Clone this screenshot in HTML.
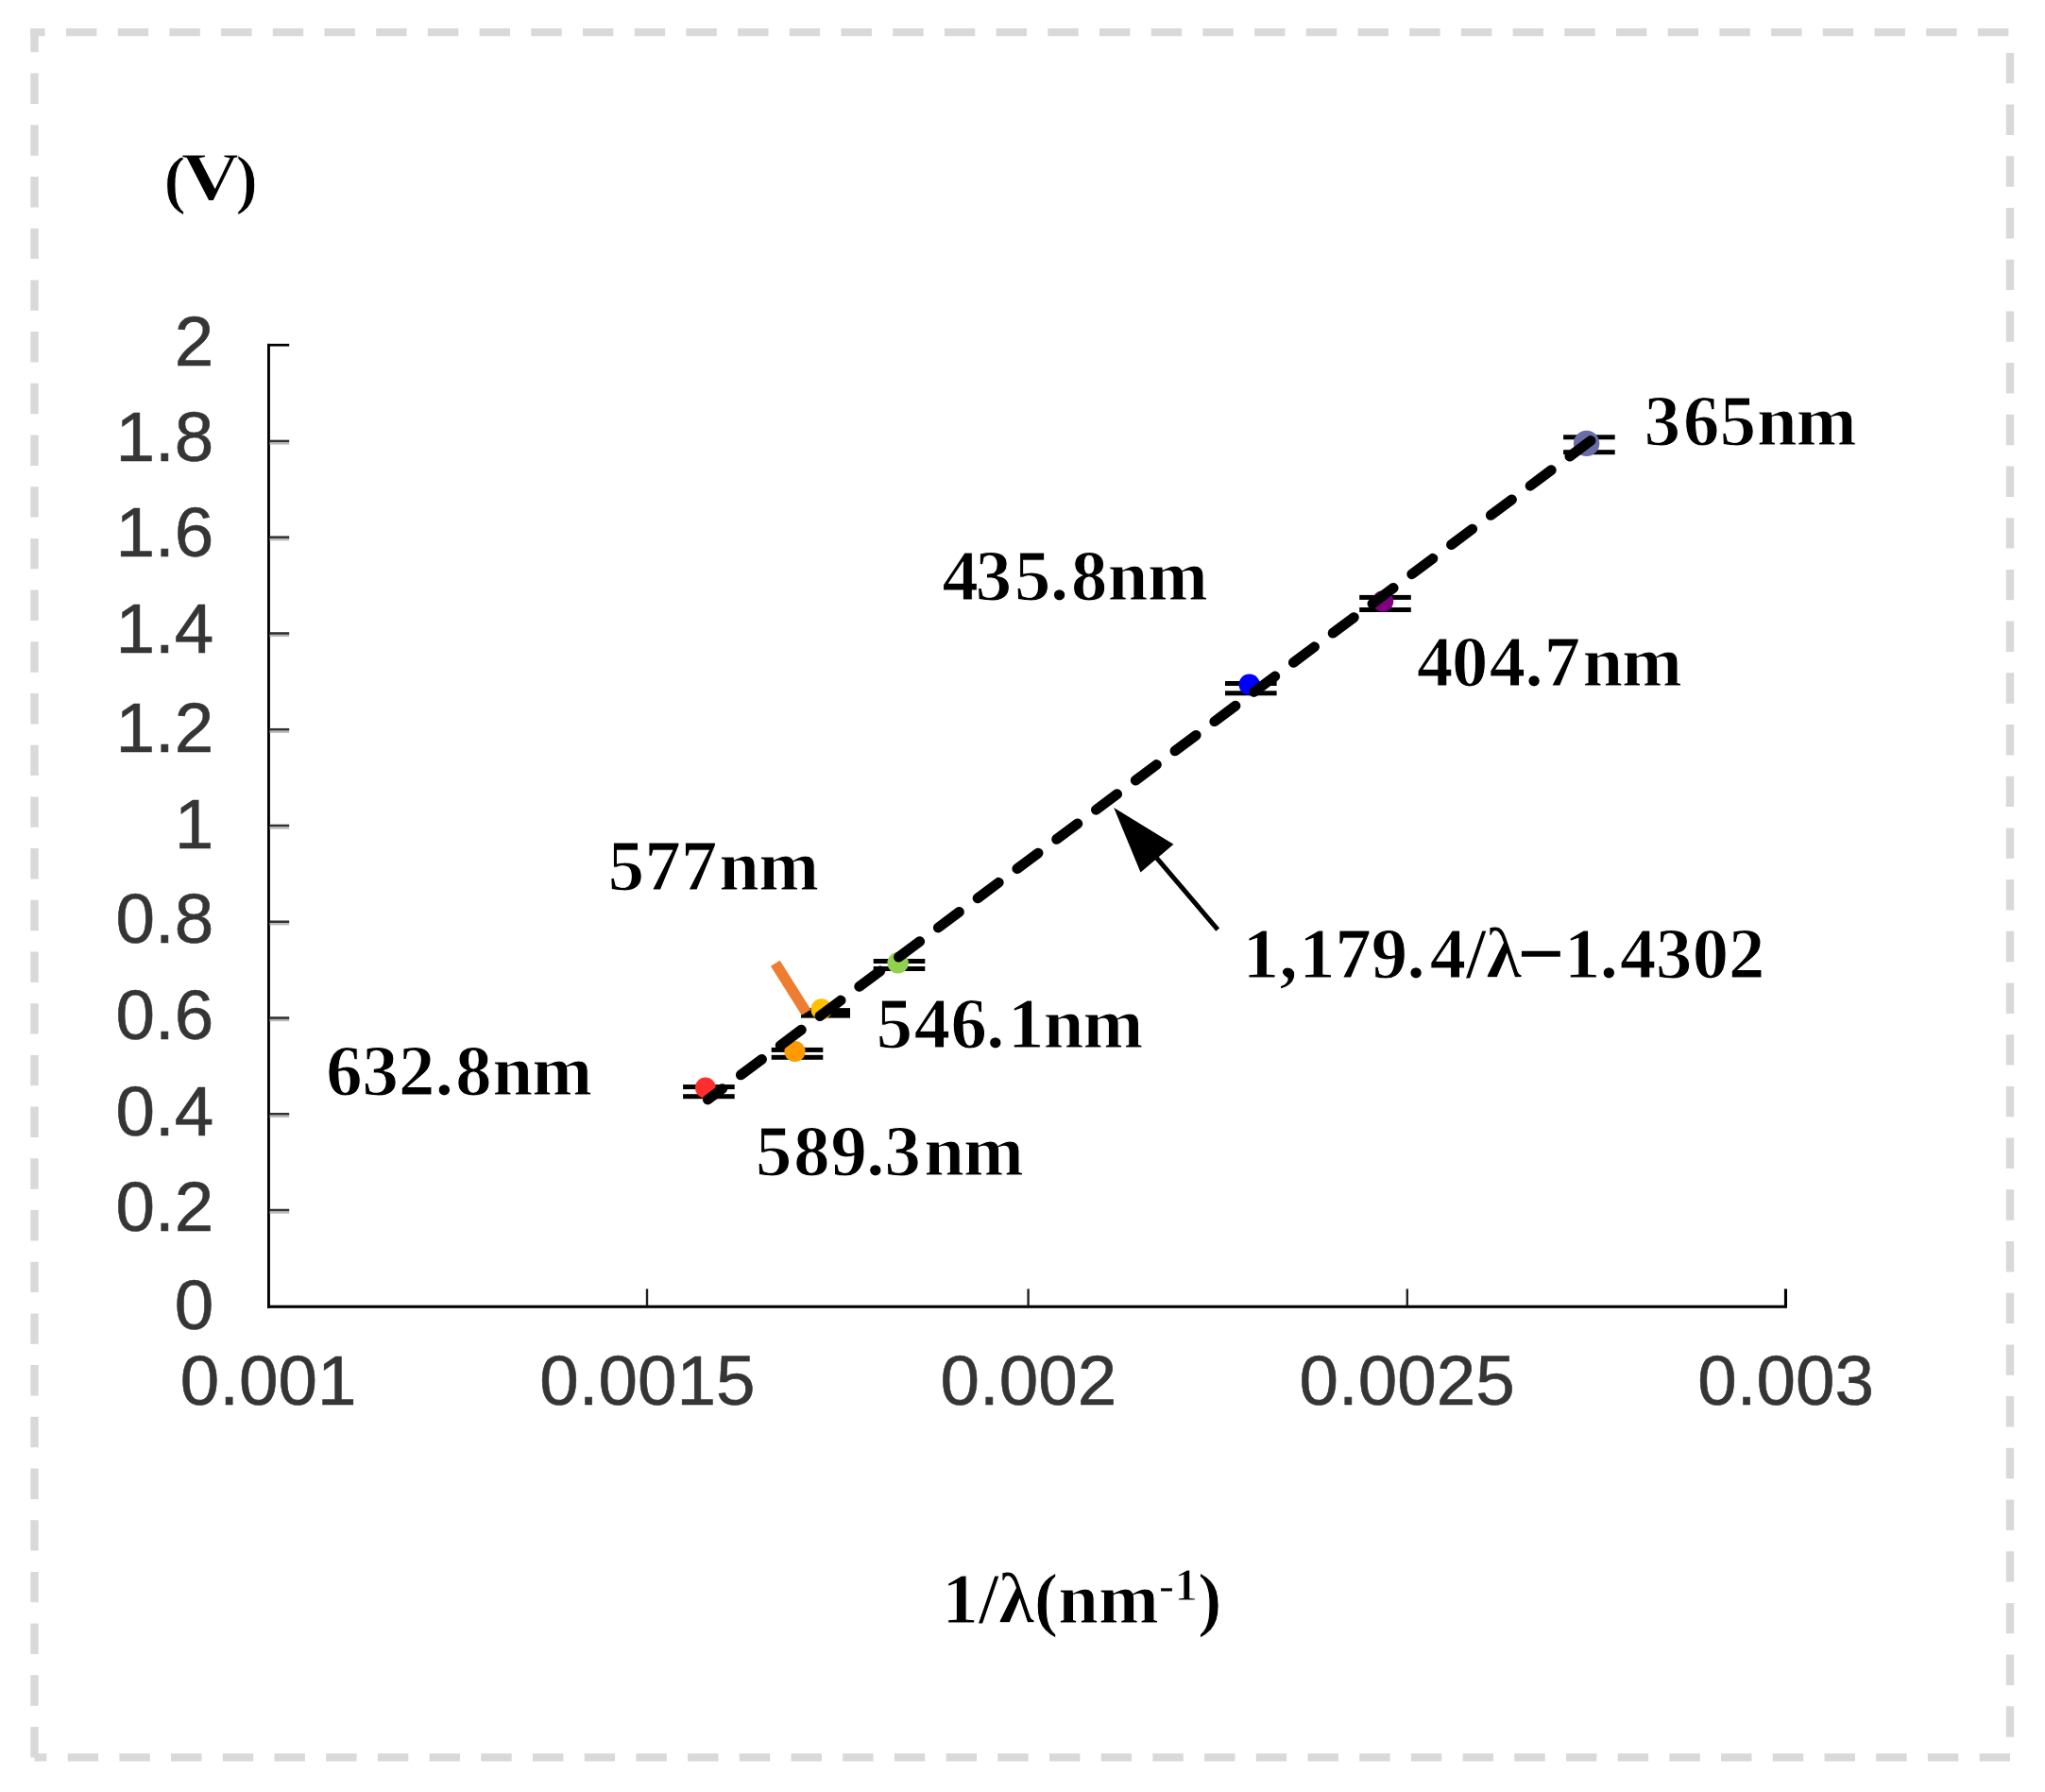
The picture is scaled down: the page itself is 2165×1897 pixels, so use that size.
<!DOCTYPE html>
<html lang="en"><head><meta charset="utf-8"><title>Stopping voltage versus 1/λ</title>
<style>
html,body{margin:0;padding:0;background:#fff;}
body{width:2165px;height:1897px;overflow:hidden;}
svg{display:block;}
.sans{font-family:"Liberation Sans",Arial,sans-serif;font-size:74.6px;fill:#353535;stroke:#353535;stroke-width:0.6px;}
.ser{font-family:"Liberation Serif","Times New Roman",serif;font-weight:bold;font-size:76.6px;fill:#000;stroke:#fff;stroke-width:1px;}
</style></head><body>
<svg width="2165" height="1897" viewBox="0 0 2165 1897">
<rect x="0" y="0" width="2165" height="1897" fill="#ffffff"/>
<g id="frame" fill="none" stroke="#d9d9d9" stroke-width="8.4" stroke-dasharray="32.4 22.3">
<line x1="36.5" y1="1860.4" x2="36.5" y2="29.9"/>
<line x1="32.3" y1="34.1" x2="2128" y2="34.1" stroke-dashoffset="17"/>
<line x1="2128" y1="34.1" x2="2128" y2="1860.4" stroke-dashoffset="32.9"/>
<line x1="2128" y1="1860.4" x2="36.5" y2="1860.4"/>
</g>
<g id="axes">
<rect x="283" y="363.9" width="2.9" height="1020.9" fill="#000"/>
<rect x="283" y="1381.7" width="1609" height="3.1" fill="#000"/>
<rect x="283" y="363.9" width="23.2" height="2.7" fill="#000"/>
<rect x="285.5" y="1279.74" width="20.7" height="2.7" fill="#333"/>
<rect x="285.5" y="1282.44" width="20.7" height="2.2" fill="#b8b8b8"/>
<rect x="285.5" y="1177.98" width="20.7" height="2.7" fill="#333"/>
<rect x="285.5" y="1180.68" width="20.7" height="2.2" fill="#b8b8b8"/>
<rect x="285.5" y="1076.22" width="20.7" height="2.7" fill="#333"/>
<rect x="285.5" y="1078.92" width="20.7" height="2.2" fill="#b8b8b8"/>
<rect x="285.5" y="974.46" width="20.7" height="2.7" fill="#333"/>
<rect x="285.5" y="977.16" width="20.7" height="2.2" fill="#b8b8b8"/>
<rect x="285.5" y="872.70" width="20.7" height="2.7" fill="#333"/>
<rect x="285.5" y="875.40" width="20.7" height="2.2" fill="#b8b8b8"/>
<rect x="285.5" y="770.94" width="20.7" height="2.7" fill="#333"/>
<rect x="285.5" y="773.64" width="20.7" height="2.2" fill="#b8b8b8"/>
<rect x="285.5" y="669.18" width="20.7" height="2.7" fill="#333"/>
<rect x="285.5" y="671.88" width="20.7" height="2.2" fill="#b8b8b8"/>
<rect x="285.5" y="567.42" width="20.7" height="2.7" fill="#333"/>
<rect x="285.5" y="570.12" width="20.7" height="2.2" fill="#b8b8b8"/>
<rect x="285.5" y="465.66" width="20.7" height="2.7" fill="#333"/>
<rect x="285.5" y="468.36" width="20.7" height="2.2" fill="#b8b8b8"/>
<rect x="683.80" y="1364.4" width="2.4" height="18" fill="#222"/>
<rect x="1087.40" y="1364.4" width="2.4" height="18" fill="#222"/>
<rect x="1488.60" y="1364.4" width="2.4" height="18" fill="#222"/>
<rect x="1888.9" y="1364.4" width="3.1" height="18" fill="#000"/>
</g>
<g id="ylabels" class="sans" text-anchor="end">
<text x="226.2" y="387.3">2</text>
<text x="226.2" y="488.0">1.8</text>
<text x="226.2" y="589.3">1.6</text>
<text x="226.2" y="691.0">1.4</text>
<text x="226.2" y="795.9">1.2</text>
<text x="226.2" y="897.5">1</text>
<text x="226.2" y="998.0">0.8</text>
<text x="226.2" y="1100.1">0.6</text>
<text x="226.2" y="1201.8">0.4</text>
<text x="226.2" y="1303.1">0.2</text>
<text x="226.2" y="1407.4">0</text>
</g>
<g id="xlabels" class="sans" text-anchor="middle">
<text x="284.1" y="1486.6">0.001</text>
<text x="685.3" y="1486.6">0.0015</text>
<text x="1088.9" y="1486.6">0.002</text>
<text x="1489.6" y="1486.6">0.0025</text>
<text x="1890.7" y="1486.6">0.003</text>
</g>
<g id="errorbars" fill="#000">
<rect x="723.1" y="1148.10" width="54.6" height="5" />
<rect x="723.1" y="1158.20" width="54.6" height="5" />
<rect x="748.4" y="1150.60" width="4" height="10.10" />
<rect x="816.7" y="1108.90" width="54.6" height="5" />
<rect x="816.7" y="1116.80" width="54.6" height="5" />
<rect x="842.0" y="1111.40" width="4" height="7.90" />
<rect x="848.0" y="1067.10" width="52" height="10.50" />
<rect x="924.7" y="1015.00" width="54.6" height="5" />
<rect x="924.7" y="1023.00" width="54.6" height="5" />
<rect x="950.0" y="1017.50" width="4" height="8.00" />
<rect x="1297.0" y="721.00" width="54.6" height="5" />
<rect x="1297.0" y="731.30" width="54.6" height="5" />
<rect x="1322.3" y="723.50" width="4" height="10.30" />
<rect x="1439.2" y="629.90" width="54.6" height="5" />
<rect x="1439.2" y="643.00" width="54.6" height="5" />
<rect x="1464.5" y="632.40" width="4" height="13.10" />
<rect x="1655.1" y="460.30" width="54.6" height="5" />
<rect x="1655.1" y="476.20" width="54.6" height="5" />
<rect x="1680.4" y="462.80" width="4" height="15.90" />
</g>
<line x1="820.8" y1="1019.7" x2="853.6" y2="1071.8" stroke="#ed7d31" stroke-width="11.5"/>
<g id="markers">
<circle cx="746.9" cy="1151.5" r="10.9" fill="#ff2d2d"/>
<circle cx="841.5" cy="1113.0" r="11.1" fill="#ff9900"/>
<circle cx="869.7" cy="1068.4" r="11.2" fill="#ffc000"/>
<circle cx="950.6" cy="1019.3" r="11.2" fill="#92d050"/>
<circle cx="1322.7" cy="724.7" r="11.1" fill="#0000ff"/>
<circle cx="1464.0" cy="636.4" r="11.2" fill="#800080"/>
<circle cx="1679.6" cy="469.4" r="13.7" fill="#6a6ca8"/>
</g>
<line x1="749.36" y1="1164.03" x2="1684.03" y2="466.51" stroke="#000" stroke-width="10.8" stroke-linecap="round" stroke-dasharray="27.70 24.44" stroke-dashoffset="8.49"/>
<line x1="1223.6" y1="907.1" x2="1289.2" y2="984.1" stroke="#000" stroke-width="5"/>
<polygon points="1179.2,855.0 1207.5,923.5 1242.4,893.8" fill="#000"/>
<g id="labels" class="ser">
<text x="1740.7 1782.0 1820.8 1860.1 1901.7" y="470.5">365nm</text>
<text x="997.5 1032.8 1074.1 1111.9 1134.0 1172.8 1214.9" y="634.7">435.8nm</text>
<text x="1500.1 1536.9 1576.7 1614.5 1634.7 1675.4 1717.0" y="725.6">404.7nm</text>
<text x="643.8 682.4 720.9 761.2 803.3" y="941.7">577nm</text>
<text x="927.7 967.7 1006.5 1044.3 1067.0 1104.8 1146.4" y="1108.9">546.1nm</text>
<text x="345.3 383.6 421.9 460.7 482.3 521.6 563.2" y="1158.7">632.8nm</text>
<text x="799.9 840.2 879.5 917.3 936.5 978.3 1019.9" y="1244.0">589.3nm</text>
<text x="1315.8 1354.4 1375.2 1413.5 1451.8 1489.6 1513.8 1552.1 1573.3" y="1035.4">1,179.4/λ</text>
<text transform="translate(1631.75,1009.9) scale(1.15,1.12) translate(-1631.75,-1009.9)" x="1609.9" y="1035.4" stroke="none">−</text>
<text x="1655.9 1693.7 1715.1 1752.9 1791.7 1830.0" y="1035.4">1.4302</text>
<text x="173.4" y="213.4" font-size="70.3px">(</text>
<text transform="translate(191.7,211.1) scale(1.2,1)" x="0" y="0" font-size="72.6px">V</text>
<text x="249.5" y="213.4" font-size="70.3px">)</text>
<text x="997.6" y="1717.5">1/λ(nm<tspan dy="-23.2" font-size="49.5px">-1</tspan><tspan dy="23.2">)</tspan></text>
</g>
</svg>
</body></html>
